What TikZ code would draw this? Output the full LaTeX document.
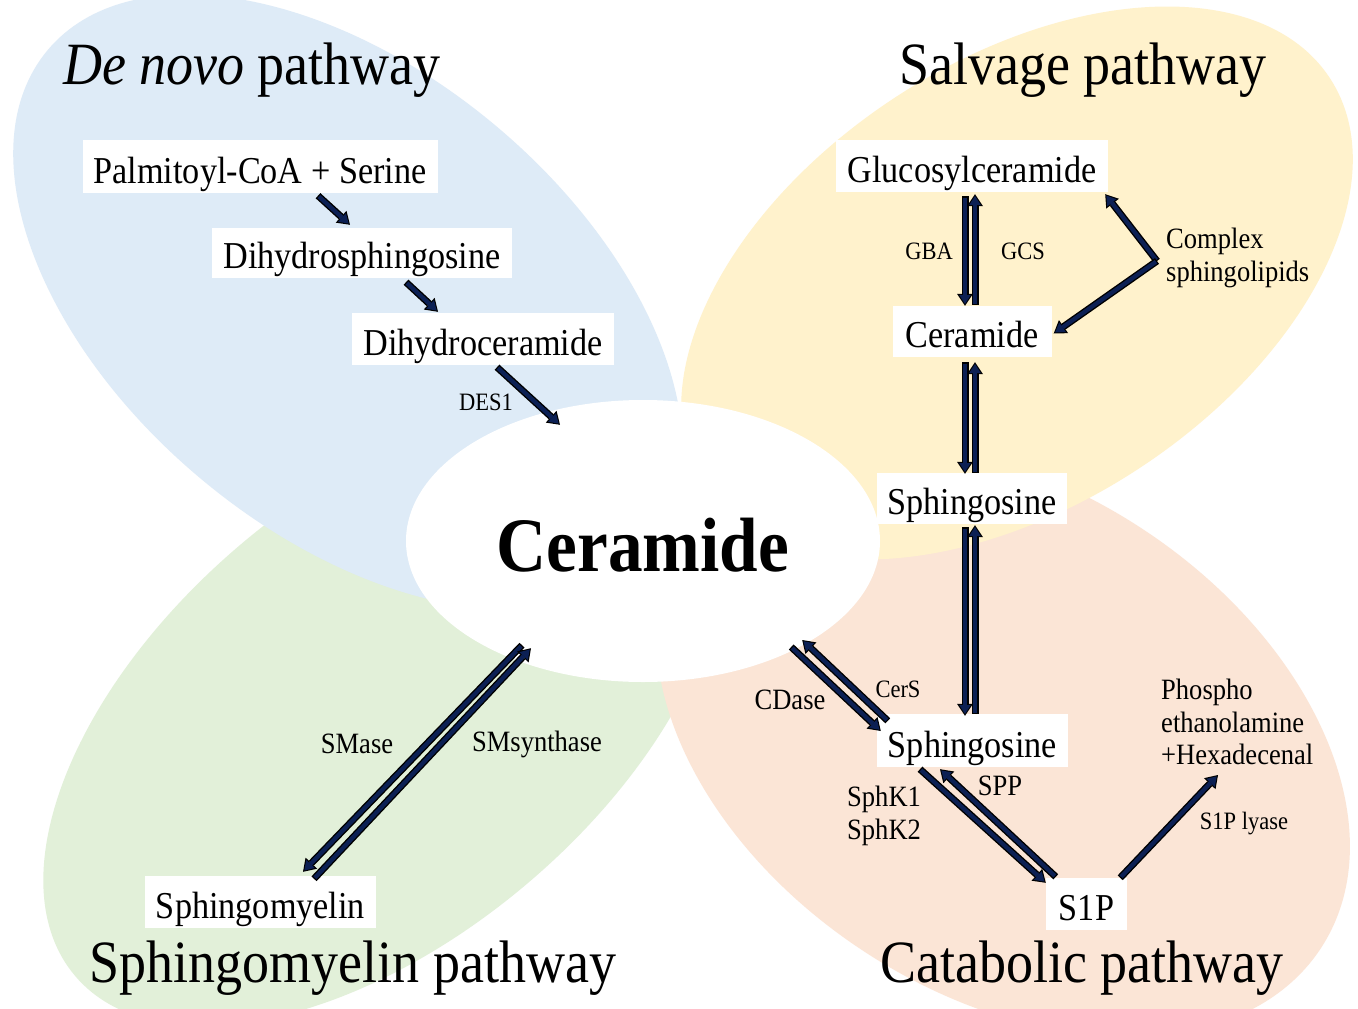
\documentclass[tikz,border=0pt]{standalone}
\usepackage{fontspec}
\setmainfont{Liberation Serif}
\usepackage{graphicx}
\usetikzlibrary{arrows.meta,shapes.geometric,calc}
\definecolor{bgBlue}{HTML}{DEEBF7}
\definecolor{bgYellow}{HTML}{FFF2CC}
\definecolor{bgGreen}{HTML}{E2F0D9}
\definecolor{bgPink}{HTML}{FBE5D6}
\definecolor{navyC}{RGB}{12,32,84}
\newcommand\sq[1]{\scalebox{0.9}[1]{#1}}
\begin{document}
\begin{tikzpicture}[x=1pt,y=-1pt,
  box/.style={fill=white, inner sep=0pt, text depth=10pt, font=\fontsize{38}{40}\selectfont},
  ttl/.style={inner sep=0pt, font=\fontsize{60}{62}\selectfont},
  lblS/.style={inner sep=0pt, font=\fontsize{25}{27}\selectfont},
  lblM/.style={inner sep=0pt, font=\fontsize{29.5}{32.5}\selectfont, align=left},
  blk/.style={line width=7pt, draw=black,
    -{Triangle[length=12pt,width=16pt,line width=0pt]},
    postaction={draw=navyC, line width=4.2pt,
      -{Triangle[length=9pt,width=11.5pt,line width=0pt]},
      shorten >=1.8pt, shorten <=1.3pt}}]
\useasboundingbox (0,0) rectangle (1358,1009);
\clip (0,0) rectangle (1358,1009);
\fill[white] (0,0) rectangle (1358,1009);
% background pathway ellipses
\fill[bgGreen, rotate around={40.3:(384,714)}] (384,714) ellipse [x radius=405, y radius=222];
\fill[bgPink, rotate around={-33.2:(1003,740)}] (1003,740) ellipse [x radius=380, y radius=253];
\fill[bgBlue, rotate around={-40:(348,302)}] (348,302) ellipse [x radius=392, y radius=230];
\fill[bgYellow, rotate around={33.2:(1017,283)}] (1017,283) ellipse [x radius=374, y radius=222];
% central ceramide
\node[ellipse, fill=white, inner sep=0pt, minimum width=474pt, minimum height=282pt] (cer) at (643,541) {};
\node[inner sep=0pt, font=\fontsize{77}{80}\selectfont\bfseries] (certxt) at (643,545) {\sq{Ceramide}};
% titles
\node[ttl] (tdn) at (252,70) {\sq{\textit{De novo} pathway}};
\node[ttl] (tsv) at (1083,70) {\sq{Salvage pathway}};
\node[ttl] (tsm) at (353,968) {\sq{Sphingomyelin pathway}};
\node[ttl] (tca) at (1082,968) {\sq{Catabolic pathway}};
% boxes
\node[box, minimum width=355pt, minimum height=53pt, text height=43pt] (palm) at (260,166.5) {\sq{Palmitoyl-CoA + Serine}};
\node[box, minimum width=300pt, minimum height=50pt, text height=40pt] (dhs) at (362,253) {\sq{Dihydrosphingosine}};
\node[box, minimum width=262pt, minimum height=52pt, text height=42pt] (dhc) at (483,339) {\sq{Dihydroceramide}};
\node[box, minimum width=272pt, minimum height=52pt, text height=42pt] (glc) at (972,166) {\sq{Glucosylceramide}};
\node[box, minimum width=159pt, minimum height=51pt, text height=41pt] (cer2) at (972,331.5) {\sq{Ceramide}};
\node[box, minimum width=190pt, minimum height=51pt, text height=41pt] (sph1) at (972,498.5) {\sq{Sphingosine}};
\node[box, minimum width=191pt, minimum height=53pt, text height=43pt] (sph2) at (972.5,740.5) {\sq{Sphingosine}};
\node[box, minimum width=81pt, minimum height=52pt, text height=42pt] (s1p) at (1086.5,904) {\sq{S1P}};
\node[box, minimum width=231pt, minimum height=52pt, text height=42pt] (sm) at (260.5,902) {\sq{Sphingomyelin}};
% labels
\node[lblS] (des) at (486,402) {\sq{DES1}};
\node[lblS] (gba) at (929,251) {\sq{GBA}};
\node[lblS] (gcs) at (1023,251) {\sq{GCS}};
\node[lblM, anchor=west] (cpx) at (1166,258) {\sq{Complex}\\\sq{sphingolipids}};
\node[lblM] (smase) at (357,744) {\sq{SMase}};
\node[lblM] (smsyn) at (537,744) {\sq{SMsynthase}};
\node[lblM] (cdase) at (790,700) {\sq{CDase}};
\node[lblS] (cers) at (898,689) {\sq{CerS}};
\node[lblM] (spp) at (1000,786) {\sq{SPP}};
\node[lblM, anchor=west] (sphk) at (847,816) {\sq{SphK1}\\\sq{SphK2}};
\node[lblM, anchor=west] (phos) at (1161,722) {\sq{Phospho}\\\sq{ethanolamine}\\\sq{+Hexadecenal}};
\node[lblS] (lyase) at (1244,824) {\sq{S1P lyase}};
% free ends
\coordinate (cx) at (1157,261);
\coordinate (lyTip) at (1218,775);
% de novo arrows
\draw[blk] ($(palm.south)+(58,2.5)$) -- ($(dhs.north)+(-12,-3)$);
\draw[blk] ($(dhs.south)+(44,4)$) -- ($(dhc.north)+(-45,-1)$);
\draw[blk] ($(dhc.south)+(14,2)$) -- ($(cer.north)+(-83,25)$);
% salvage arrows
\draw[blk] ($(glc.south)+(-7,4)$) -- ($(cer2.north)+(-7,0)$);
\draw[blk] ($(cer2.north)+(3,-1)$) -- ($(glc.south)+(3,2)$);
\draw[blk] ($(cer2.south)+(-7,5)$) -- ($(sph1.north)+(-7,1)$);
\draw[blk] ($(sph1.north)+(3,0)$) -- ($(cer2.south)+(3,5)$);
\draw[blk] (cx) -- ($(glc.south east)+(-3,2)$);
\draw[blk] (cx) -- ($(cer2.east)+(2,2)$);
% sphingosine link
\draw[blk] ($(sph1.south)+(-7,3)$) -- ($(sph2.north)+(-7.5,2)$);
\draw[blk] ($(sph2.north)+(2.5,0)$) -- ($(sph1.south)+(3,1)$);
% sphingomyelin arrows
\draw[blk] ($(cer.south)+(-121,-37)$) -- ($(sm.north)+(42.5,-4)$);
\draw[blk] ($(sm.north)+(53.5,3)$) -- ($(cer.south)+(-112,-34)$);
% catabolic arrows
\draw[blk] ($(cer.east)+(-89,106)$) -- ($(sph2.west)+(4,-9.5)$);
\draw[blk] ($(sph2.north west)+(11,7)$) -- ($(cer.east)+(-78,99)$);
\draw[blk] ($(sph2.south)+(-52.5,2)$) -- ($(s1p.north west)+(0,5)$);
\draw[blk] ($(s1p.north west)+(10,-1)$) -- ($(sph2.south)+(-32.5,2)$);
\draw[blk] ($(s1p.north east)+(-7,0)$) -- (lyTip);
\end{tikzpicture}
\end{document}
